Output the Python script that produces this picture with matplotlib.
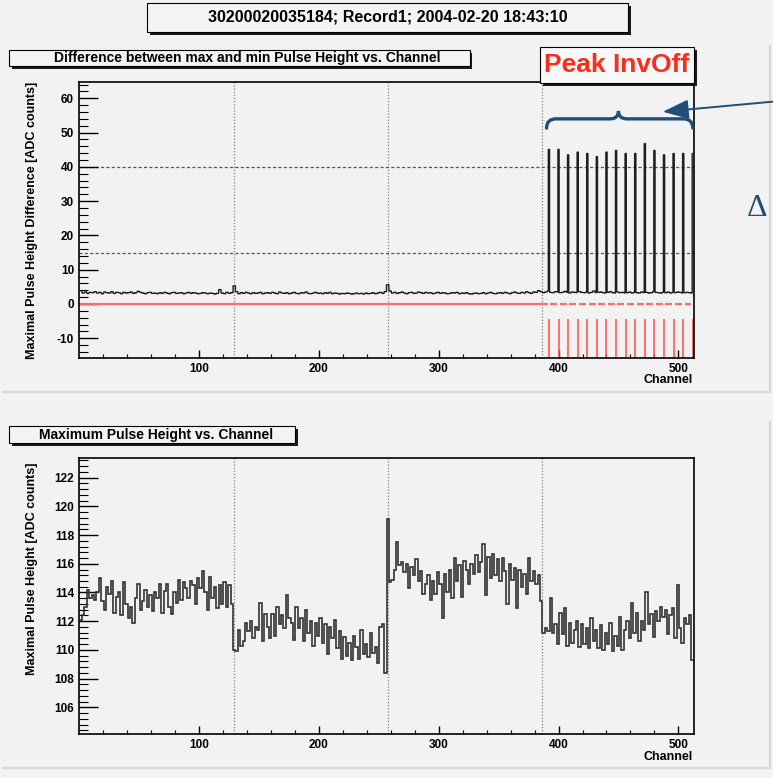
import numpy as np
import matplotlib
matplotlib.use('Agg')
import matplotlib.pyplot as plt
from matplotlib.patches import Rectangle, PathPatch
from matplotlib.path import Path
from matplotlib.lines import Line2D
from matplotlib.ticker import FixedLocator

plt.rcParams['font.family'] = ['Liberation Sans', 'DejaVu Sans']
plt.rcParams['font.weight'] = 'bold'
plt.rcParams['axes.unicode_minus'] = False

# ---- data ----
title = "30200020035184; Record1; 2004-02-20 18:43:10"
title_top = "Difference between max and min Pulse Height vs. Channel"
title_bot = "Maximum Pulse Height vs. Channel"
ylabel_top = "Maximal Pulse Height Difference [ADC counts]"
ylabel_bot = "Maximal Pulse Height [ADC counts]"

# max-min difference, one value per 2 channels (baseline without peaks)
diff_base = [
    3.9, 3.2, 3.5, 3.1, 3.4, 3.3, 3.6, 3.2, 3.4, 3.0, 3.5, 3.3, 3.2, 3.6, 3.1, 3.4,
    3.3, 3.0, 3.4, 3.2, 3.3, 3.5, 3.1, 3.3, 3.7, 3.4, 3.2, 3.0, 3.3, 3.4, 3.1, 3.2,
    3.0, 3.3, 3.1, 3.4, 3.2, 3.0, 3.3, 3.4, 3.1, 3.2, 3.3, 3.0, 3.2, 3.4, 3.1, 3.3,
    3.2, 3.0, 3.1, 3.3, 3.2, 3.0, 3.2, 3.1, 2.9, 3.1, 4.2, 3.2, 3.0, 3.4, 3.1, 3.3,
    5.3, 3.6, 3.0, 3.3, 3.1, 3.4, 3.2, 3.0, 3.3, 3.1, 3.2, 3.4, 3.0, 3.2, 3.3, 3.1,
    3.4, 3.2, 3.0, 3.5, 3.2, 3.1, 3.3, 3.0, 3.2, 3.4, 3.1, 3.0, 3.3, 3.2, 3.5, 3.1,
    3.0, 3.2, 3.4, 3.1, 3.2, 3.0, 3.3, 3.1, 3.4, 3.0, 3.2, 3.1, 2.9, 3.1, 3.0, 3.2,
    3.1, 2.9, 3.0, 3.2, 3.0, 3.1, 2.9, 3.2, 3.0, 3.1, 3.3, 3.0, 3.2, 3.4, 3.1, 3.6,
    5.6, 3.8, 3.2, 3.4, 3.1, 3.3, 3.5, 3.2, 3.0, 3.3, 3.4, 3.1, 3.2, 3.5, 3.3, 3.1,
    3.4, 3.2, 3.3, 3.0, 3.2, 3.4, 3.1, 3.3, 3.2, 3.0, 3.1, 3.3, 3.2, 3.4, 3.0, 3.2,
    3.1, 3.3, 3.0, 2.9, 3.1, 3.2, 3.0, 3.1, 3.3, 3.0, 3.2, 3.4, 3.1, 3.0, 3.2, 3.3,
    3.1, 3.4, 3.2, 3.0, 3.3, 3.5, 3.2, 3.1, 3.4, 3.2, 3.6, 3.3, 3.1, 3.5, 3.4, 3.9,
    3.6, 3.3, 3.5, 3.8, 3.4, 3.3, 3.6, 3.5, 3.3, 3.4, 3.7, 3.4, 3.2, 3.5, 3.4, 3.3,
    3.6, 3.4, 3.3, 3.5, 3.2, 3.4, 3.8, 3.3, 3.4, 3.5, 3.3, 3.2, 3.4, 3.6, 3.3, 3.2,
    3.5, 3.3, 3.4, 3.2, 3.3, 3.5, 3.2, 3.4, 3.3, 3.2, 3.5, 3.3, 3.4, 3.2, 3.3, 3.6,
    3.4, 3.3, 3.2, 3.4, 3.3, 3.5, 3.2, 3.4, 3.3, 3.5, 3.4, 3.2, 3.3, 3.4, 3.3, 3.2,
]
peak_channels = [392, 400, 408, 416, 424, 432, 440, 448, 456, 464, 472, 480, 488, 496, 504, 512]
peak_heights = [45.1, 45.1, 43.5, 44.3, 43.9, 43.0, 44.3, 44.8, 43.9, 43.9, 46.8, 44.8, 43.5, 43.9, 43.9, 43.9]
red_spike_top = -4.5
dashed_levels = [40, 15]
chip_bounds = [129.5, 257.5, 386]

# maximum pulse height, one value per 2 channels
max_ph = [
    112.1, 112.4, 113.0, 114.2, 113.6, 113.8, 113.5, 114.0, 115.0, 113.4, 112.8, 114.4, 113.9, 114.8, 112.6, 113.7,
    114.0, 112.4, 114.7, 113.2, 112.2, 113.0, 111.9, 113.6, 114.6, 112.8, 113.4, 114.2, 113.0, 113.8, 112.7, 114.0,
    113.6, 114.6, 112.6, 114.1, 114.6, 113.0, 112.5, 114.0, 113.3, 114.9, 113.5, 114.7, 114.3, 113.6, 114.8, 114.5,
    113.2, 115.0, 114.3, 115.5, 114.0, 112.8, 115.1, 113.6, 114.4, 112.9, 114.5, 113.2, 114.7, 113.0, 114.5, 113.2,
    110.0, 109.9, 111.4, 110.3, 110.6, 111.9, 111.3, 112.0, 110.8, 111.6, 111.4, 113.3, 110.6, 112.5, 111.6, 110.8,
    112.5, 111.0, 113.0, 111.8, 112.4, 111.5, 113.8, 112.2, 111.9, 110.7, 113.0, 111.5, 112.2, 110.6, 112.8, 111.2,
    112.0, 110.3, 111.9, 111.0, 112.2, 110.5, 111.8, 109.7, 111.6, 110.8, 112.1, 110.1, 111.3, 109.4, 110.9, 109.6,
    110.5, 109.3, 111.0, 110.2, 109.4, 111.4, 109.7, 110.4, 109.5, 111.2, 109.8, 110.2, 109.1, 111.6, 111.8, 108.4,
    119.1, 114.7, 114.9, 115.6, 117.5, 115.9, 116.1, 115.4, 116.0, 114.3, 115.8, 115.2, 116.3, 114.8, 115.5, 113.9,
    114.6, 115.2, 113.5, 114.8, 113.9, 115.4, 114.6, 112.2, 115.3, 114.0, 115.6, 113.6, 116.4, 114.8, 115.9, 113.7,
    116.2, 115.6, 114.6, 116.0, 115.3, 116.6, 115.4, 116.1, 117.4, 113.8, 116.5, 115.0, 116.7, 115.2, 116.3, 114.8,
    116.4, 115.5, 113.2, 116.0, 114.9, 115.7, 112.9, 115.6, 114.4, 115.3, 113.9, 116.4, 114.8, 115.5, 114.6, 115.2,
    113.4, 111.2, 111.5, 111.3, 113.6, 111.2, 111.8, 110.4, 112.6, 111.1, 112.9, 110.3, 111.9, 110.5, 111.4, 112.0,
    110.2, 111.8, 110.4, 111.5, 110.1, 112.2, 110.6, 111.4, 110.1, 111.7, 110.0, 111.2, 110.4, 111.9, 109.9, 111.0,
    110.3, 112.3, 110.0, 111.4, 112.0, 110.8, 113.3, 111.2, 112.6, 110.6, 112.0, 111.4, 114.0, 111.8, 112.5, 110.9,
    112.7, 112.0, 113.0, 112.3, 112.8, 111.1, 112.4, 112.9, 110.8, 114.5, 111.5, 110.5, 112.2, 111.8, 112.4, 109.3,
]

W, H = 773, 778
BG = '#f2f2f2'
BLUE = '#1f4e79'


def fx(x):
    return x / W


def fy(y):
    return 1 - y / H


fig = plt.figure(figsize=(W / 100, H / 100), dpi=100, facecolor=BG)

# pad borders
for (x0, y0, x1, y1) in [(3, 392, 770, 392), (770, 46, 770, 392), (3, 768, 770, 768), (770, 422, 770, 768)]:
    fig.add_artist(Line2D([fx(x0), fx(x1)], [fy(y0), fy(y1)], color='#d8d8d8', lw=1.5,
                          transform=fig.transFigure))


def pave(x0, y0, x1, y1, text, size, tx, color='black', fill='#f4f4f4', sh=3):
    fig.add_artist(Rectangle((fx(x0 + sh), fy(y1 + sh)), (x1 - x0) / W, (y1 - y0) / H,
                             transform=fig.transFigure, facecolor='#1a1a1a', edgecolor='none', zorder=10))
    fig.add_artist(Rectangle((fx(x0), fy(y1)), (x1 - x0) / W, (y1 - y0) / H,
                             transform=fig.transFigure, facecolor=fill, edgecolor='black', lw=0.8, zorder=11))
    fig.text(fx(tx), fy((y0 + y1) / 2), text, ha='center', va='center', fontsize=size,
             color=color, zorder=12)


def style_axes(ax, ylo, yhi, ymaj, ymin):
    ax.set_facecolor(BG)
    ax.set_xlim(0, 513)
    ax.set_ylim(ylo, yhi)
    ax.xaxis.set_major_locator(FixedLocator([100, 200, 300, 400, 500]))
    ax.xaxis.set_minor_locator(FixedLocator([m for m in range(20, 513, 20) if m % 100]))
    ax.yaxis.set_major_locator(FixedLocator(ymaj))
    ax.yaxis.set_minor_locator(FixedLocator(ymin))
    ax.tick_params(axis='y', which='major', direction='in', length=13.4, width=1.0,
                   left=True, right=False, pad=3.6, labelsize=8.5)
    ax.tick_params(axis='y', which='minor', direction='in', length=6.5, width=0.8, left=True, right=False)
    ax.tick_params(axis='x', which='major', direction='in', length=5.7, width=1.0,
                   bottom=True, top=False, pad=3.4, labelsize=8.5)
    ax.tick_params(axis='x', which='minor', direction='in', length=2.9, width=0.8, bottom=True, top=False)
    for s in ax.spines.values():
        s.set_linewidth(1.2)
    for c in chip_bounds:
        ax.axvline(c, color='#808080', lw=0.9, ls=(0, (1, 1.5)), zorder=1)


# ---- top panel ----
ax1 = fig.add_axes([fx(79), fy(358), 615 / W, 276 / H])
ymin1 = [v for v in np.arange(-14, 65, 2) if v % 10]
style_axes(ax1, -15.75, 64.75, list(range(-10, 61, 10)), ymin1)
for lvl in dashed_levels:
    ax1.axhline(lvl, color='#555555', lw=0.9, ls=(0, (2.5, 1.8)), zorder=1)

diff_vals = np.repeat(diff_base, 2).astype(float)
for c, h in zip(peak_channels, peak_heights):
    diff_vals[c - 1] = h
edges1 = np.arange(0.5, 513.5, 1)
ax1.stairs(diff_vals, edges1, baseline=None, color='#1e1e1e', lw=1.0, zorder=3)

# red reference histogram: zero line broken at the peak channels, spikes below
gap_starts = [0] + [c + 1.1 for c in peak_channels]
gap_ends = [c - 1.1 for c in peak_channels] + [513]
for a, b in zip(gap_starts, gap_ends):
    if b > a:
        ax1.plot([a, b], [0, 0], color='#ff6b6b', lw=1.6, zorder=2, solid_capstyle='butt')
ax1.vlines(peak_channels, -15.75, red_spike_top, color='#ff4d4d', lw=1.3, alpha=0.85, zorder=2)

# brace over the peak region
bl, br, bm = 390, 512, 450
yb0, yb1, yb2 = 51.3, 54.0, 56.3
verts = [(bl, yb0), (bl, yb1), (bl + 8, yb1), (bm - 7, yb1), (bm, yb1), (bm, yb2),
         (bm, yb1), (bm + 7, yb1), (br - 8, yb1), (br, yb1), (br, yb0)]
codes = [Path.MOVETO, Path.CURVE3, Path.CURVE3, Path.LINETO, Path.CURVE3, Path.CURVE3,
         Path.CURVE3, Path.CURVE3, Path.LINETO, Path.CURVE3, Path.CURVE3]
ax1.add_patch(PathPatch(Path(verts, codes), facecolor='none', edgecolor=BLUE, lw=2.4,
                        capstyle='round', zorder=5, clip_on=False))

# ---- bottom panel ----
ax2 = fig.add_axes([fx(79), fy(734), 615 / W, 276 / H])
ymin2 = [v for v in np.arange(104.4, 123.3, 0.4) if abs(v / 2 - round(v / 2)) > 0.01]
style_axes(ax2, 104.14, 123.37, list(range(106, 123, 2)), ymin2)
edges2 = np.arange(0.5, 513, 2)
ax2.stairs(max_ph, edges2, baseline=None, color='#333333', lw=1.2, zorder=3)

# ---- labels and panes ----
fig.text(fx(32), fy(220), ylabel_top, rotation=90, ha='center', va='center', fontsize=9)
fig.text(fx(32), fy(569), ylabel_bot, rotation=90, ha='center', va='center', fontsize=9)
fig.text(fx(693), fy(380), "Channel", ha='right', va='center', fontsize=9)
fig.text(fx(693), fy(757), "Channel", ha='right', va='center', fontsize=9)

pave(147, 3, 628, 32, title, 11.5, 388)
pave(9, 50, 470, 66, title_top, 10, 247, sh=2.5)
pave(9, 426, 295, 443, title_bot, 10, 156.5, sh=2.5)
pave(540, 47, 694, 83, "Peak InvOff", 19, 617, color='#ff2a1a', fill='#f8f8f8', sh=3)

# annotation arrow and symbol at the right edge
fig.add_artist(matplotlib.patches.FancyArrowPatch(
    (fx(780), fy(101)), (fx(660), fy(112)), transform=fig.transFigure,
    arrowstyle='-|>,head_length=0.8,head_width=0.3', mutation_scale=20,
    color=BLUE, lw=1.4, zorder=13))
fig.text(fx(747), fy(208), "\u0394", fontsize=23, family=['Liberation Serif', 'DejaVu Serif'],
         fontweight='normal', color=BLUE, ha='left', va='center')

fig.savefig('out.png', dpi=100, facecolor=BG)
